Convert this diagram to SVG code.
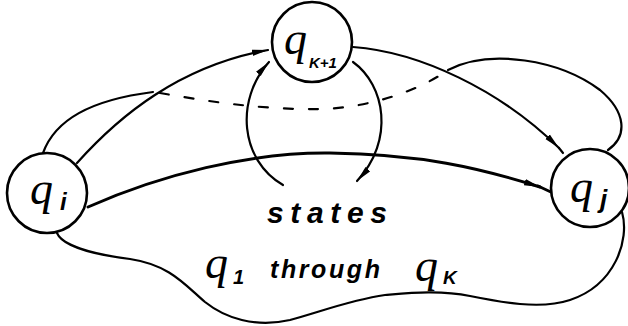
<svg xmlns="http://www.w3.org/2000/svg" width="628" height="326" viewBox="0 0 628 326">
<style>
.ln{fill:none;stroke:#000;stroke-width:2.2;stroke-linecap:round;stroke-linejoin:round}
.bold{stroke-width:3}
.dash{stroke-dasharray:9 16}
.nd{fill:#fff;stroke:#000;stroke-width:2.6}
.q{font-family:"Liberation Serif",serif;font-style:italic;font-size:46px;fill:#000}
.sub{font-family:"Liberation Sans",sans-serif;font-style:italic;font-weight:bold;fill:#000}
.lab{font-family:"Liberation Sans",sans-serif;font-style:italic;font-weight:bold;fill:#000}
</style>
<defs>
<marker id="arr" markerUnits="userSpaceOnUse" markerWidth="18" markerHeight="10" refX="16" refY="4" orient="auto">
<path d="M0,0.8 L16,4 L0,7.2 z" fill="#000"/>
</marker>
</defs>
<g id="region">
<path class="ln" d="M43,153 C55,120 90,100 153,92"/>
<path class="ln dash" d="M160,93 C205,101 262,110 320,109 C370,108 420,90 448,70"/>
<path class="ln" d="M448,70 C490,48 560,60 600,90 C626,112 628,136 608,150"/>
<path class="ln" d="M622,212 C630,240 615,285 570,300 C540,310 500,302 470,296 C440,290 410,293 385,295 C350,300 320,312 290,320 C255,328 225,318 205,302 C185,285 170,265 130,259 C90,254 62,245 57,233"/>
</g>
<g id="connectors">
<path class="ln" d="M77,163 C120,115 180,66 268,50" marker-end="url(#arr)"/>
<path class="ln bold" d="M88,207 C160,175 250,152 330,153 C420,154 480,168 540,187" marker-end="url(#arr)"/>
<path class="ln bold" d="M538,186 L553,193"/>
<path class="ln" d="M353,47 C420,52 500,90 559,148" marker-end="url(#arr)"/>
<path class="ln" d="M559,148 L563,153"/>
<path class="ln" d="M353,62 C385,85 395,140 357,181" marker-end="url(#arr)"/>
<path class="ln" d="M283,185 C240,160 235,100 269,62" marker-end="url(#arr)"/>
</g>
<g id="node-qk1">
<circle class="nd" cx="312" cy="42" r="40"/>
<text class="q" x="284" y="54">q</text>
<text class="sub" x="309" y="68" font-size="15">K+1</text>
</g>
<g id="node-qi">
<circle class="nd" cx="47" cy="193" r="40"/>
<text class="q" x="30" y="204">q</text>
<text class="sub" x="60" y="210" font-size="24">i</text>
</g>
<g id="node-qj">
<circle class="nd" cx="590" cy="188" r="39"/>
<text class="q" x="570" y="202">q</text>
<text class="sub" x="600" y="208" font-size="26">j</text>
</g>
<g id="labels">
<text class="lab" x="267" y="223" font-size="30" textLength="120" lengthAdjust="spacing">states</text>
<text class="q" x="205" y="278">q</text>
<text class="sub" x="233" y="284" font-size="20">1</text>
<text class="lab" x="270" y="278" font-size="25" textLength="110" lengthAdjust="spacing">through</text>
<text class="q" x="415" y="281">q</text>
<text class="sub" x="443" y="284" font-size="19">K</text>
</g>
</svg>
